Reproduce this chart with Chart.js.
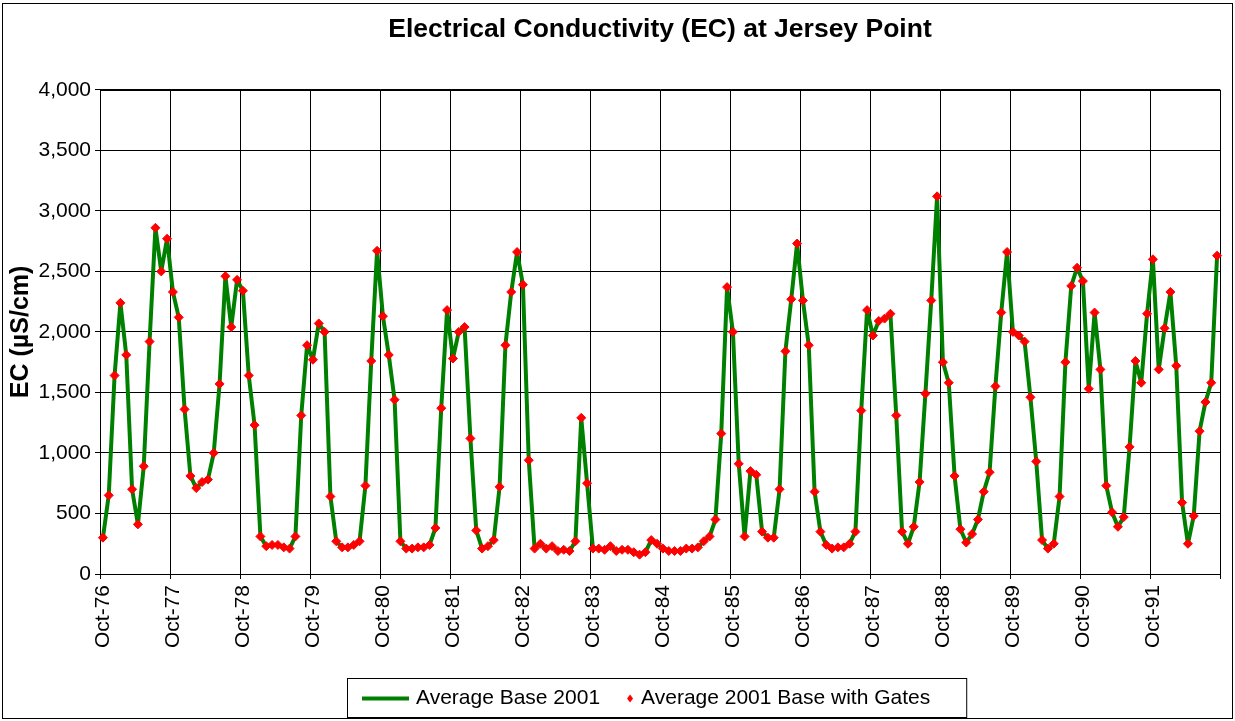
<!DOCTYPE html>
<html>
<head>
<meta charset="utf-8">
<title>EC at Jersey Point</title>
<script src="https://cdn.jsdelivr.net/npm/chart.js@4.4.0/dist/chart.umd.min.js"></script>
<style>
  html, body { margin: 0; padding: 0; background: #fff; }
  #wrap { width: 1235px; height: 721px; }
</style>
</head>
<body>
<div id="wrap"><canvas id="ecChart" width="1235" height="721"></canvas></div>
<script>
'use strict'

const chartTitle = 'Electrical Conductivity (EC) at Jersey Point';
const yTitle = 'EC (µS/cm)';
const seriesNames = ['Average Base 2001', 'Average 2001 Base with Gates'];

// water years, one label per October
const yearTicks = ['Oct-76', 'Oct-77', 'Oct-78', 'Oct-79', 'Oct-80', 'Oct-81', 'Oct-82', 'Oct-83',
  'Oct-84', 'Oct-85', 'Oct-86', 'Oct-87', 'Oct-88', 'Oct-89', 'Oct-90', 'Oct-91'];
const monthNames = ['Oct', 'Nov', 'Dec', 'Jan', 'Feb', 'Mar', 'Apr', 'May', 'Jun', 'Jul', 'Aug', 'Sep'];

// monthly EC, Oct-76 .. Sep-92
const baseEC = [
  300, 650, 1640, 2240, 1810, 700, 410, 890, 1920, 2860, 2500, 2770,
  2330, 2120, 1360, 810, 710, 760, 780, 1000, 1570, 2460, 2040, 2430,
  2340, 1640, 1230, 310, 230, 240, 240, 220, 210, 310, 1310, 1890,
  1770, 2070, 2000, 640, 270, 220, 220, 240, 270, 730, 1760, 2670,
  2130, 1810, 1440, 270, 210, 210, 220, 220, 240, 380, 1370, 2180,
  1780, 2000, 2040, 1120, 360, 210, 230, 280, 720, 1890, 2330, 2660,
  2390, 940, 210, 250, 210, 230, 190, 200, 190, 270, 1290, 750,
  210, 210, 200, 230, 190, 200, 200, 180, 160, 180, 280, 250,
  210, 190, 190, 190, 210, 210, 220, 270, 310, 450, 1160, 2370,
  2000, 910, 310, 850, 820, 350, 300, 300, 700, 1840, 2270, 2730,
  2260, 1890, 680, 350, 240, 210, 220, 220, 250, 350, 1350, 2180,
  1970, 2090, 2110, 2150, 1310, 350, 250, 390, 760, 1490, 2260, 3120,
  1750, 1580, 810, 370, 260, 330, 450, 680, 840, 1550, 2160, 2660,
  2000, 1970, 1920, 1460, 930, 280, 210, 250, 640, 1750, 2380, 2530,
  2420, 1530, 2160, 1690, 730, 510, 390, 470, 1050, 1760, 1580, 2150,
  2600, 1690, 2030, 2330, 1720, 590, 250, 480, 1180, 1420, 1580, 2630
];
const gatesEC = [
  300, 650, 1640, 2240, 1810, 700, 410, 890, 1920, 2860, 2500, 2770,
  2330, 2120, 1360, 810, 710, 760, 780, 1000, 1570, 2460, 2040, 2430,
  2340, 1640, 1230, 310, 230, 240, 240, 220, 210, 310, 1310, 1890,
  1770, 2070, 2000, 640, 270, 220, 220, 240, 270, 730, 1760, 2670,
  2130, 1810, 1440, 270, 210, 210, 220, 220, 240, 380, 1370, 2180,
  1780, 2000, 2040, 1120, 360, 210, 230, 280, 720, 1890, 2330, 2660,
  2390, 940, 210, 250, 210, 230, 190, 200, 190, 270, 1290, 750,
  210, 210, 200, 230, 190, 200, 200, 180, 160, 180, 280, 250,
  210, 190, 190, 190, 210, 210, 220, 270, 310, 450, 1160, 2370,
  2000, 910, 310, 850, 820, 350, 300, 300, 700, 1840, 2270, 2730,
  2260, 1890, 680, 350, 240, 210, 220, 220, 250, 350, 1350, 2180,
  1970, 2090, 2110, 2150, 1310, 350, 250, 390, 760, 1490, 2260, 3120,
  1750, 1580, 810, 370, 260, 330, 450, 680, 840, 1550, 2160, 2660,
  2000, 1970, 1920, 1460, 930, 280, 210, 250, 640, 1750, 2380, 2530,
  2420, 1530, 2160, 1690, 730, 510, 390, 470, 1050, 1760, 1580, 2150,
  2600, 1690, 2030, 2330, 1720, 590, 250, 480, 1180, 1420, 1580, 2630
];

const yMin = 0, yMax = 4000, yStep = 500;

const FONT = 'Arial, "Liberation Sans", sans-serif';
const GREEN = '#008000';
const RED = '#ff0000';

// one category per month
const months = [];
for (let y = 0; y < yearTicks.length; y++) {
  const startYY = parseInt(yearTicks[y].slice(4), 10);
  for (let m = 0; m < 12; m++) {
    const yy = m < 3 ? startYY : (startYY + 1) % 100;
    months.push(monthNames[m] + '-' + String(yy).padStart(2, '0'));
  }
}

function yearLine(c) {
  // extra grid line at the right edge has no tick index
  if (c.index === undefined || c.index % 12 === 0) return '#000';
  return 'rgba(0,0,0,0)';
}

const frameAndLegend = {
  id: 'frameAndLegend',
  beforeDatasetsDraw(chart) {
    const a = chart.chartArea;
    const c = chart.ctx;
    c.save();
    c.strokeStyle = '#000';
    c.lineWidth = 1;
    c.strokeRect(Math.round(a.left) + 0.5, Math.round(a.top) + 0.5,
      Math.round(a.right - a.left), Math.round(a.bottom - a.top));
    c.restore();
  },
  afterDraw(chart) {
    const a = chart.chartArea;
    const c = chart.ctx;
    c.save();
    // outer chart border
    c.strokeStyle = '#000';
    c.lineWidth = 1;
    c.strokeRect(2.5, 3.5, chart.width - 5, chart.height - 6);

    // legend box under the axis
    c.font = '21px ' + FONT;
    c.textBaseline = 'middle';
    c.fillStyle = '#000';
    const w1 = c.measureText(seriesNames[0]).width;
    const w2 = c.measureText(seriesNames[1]).width;
    const padL = 15, lineLen = 47, gap1 = 7, gap2 = 30, gap3 = 11, padR = 36;
    const boxW = padL + lineLen + gap1 + w1 + gap2 + gap3 + w2 + padR;
    const left = Math.round((a.left + a.right) / 2 - boxW / 2) - 3;
    const top = 678, boxH = 39;
    const midY = top + boxH / 2 + 1;
    c.strokeRect(left + 0.5, top + 0.5, boxW, boxH);

    let x = left + padL;
    c.strokeStyle = GREEN;
    c.lineWidth = 4;
    c.beginPath();
    c.moveTo(x, midY);
    c.lineTo(x + lineLen, midY);
    c.stroke();
    x += lineLen + gap1;
    c.fillText(seriesNames[0], x, midY);
    x += w1 + gap2;
    c.fillStyle = RED;
    c.beginPath();
    c.moveTo(x, midY - 4);
    c.lineTo(x + 3, midY);
    c.lineTo(x, midY + 4);
    c.lineTo(x - 3, midY);
    c.closePath();
    c.fill();
    x += gap3;
    c.fillStyle = '#000';
    c.fillText(seriesNames[1], x, midY);
    c.restore();
  }
};

const ctx = document.getElementById('ecChart').getContext('2d');
new Chart(ctx, {
  type: 'line',
  data: {
    labels: months,
    datasets: [
      {
        label: seriesNames[0],
        data: baseEC,
        borderColor: GREEN,
        borderWidth: 4,
        borderJoinStyle: 'round',
        borderCapStyle: 'round',
        pointRadius: 0,
        tension: 0,
        order: 2
      },
      {
        label: seriesNames[1],
        data: gatesEC,
        showLine: false,
        pointStyle: 'rectRot',
        pointRadius: 4.5,
        pointBackgroundColor: RED,
        pointBorderColor: RED,
        pointBorderWidth: 1,
        order: 1
      }
    ]
  },
  options: {
    responsive: false,
    animation: false,
    devicePixelRatio: 1,
    layout: { padding: { left: 0, right: 15, top: 0, bottom: 60 } },
    plugins: {
      legend: { display: false },
      tooltip: { enabled: false },
      title: {
        display: true,
        text: chartTitle,
        fullSize: false,
        color: '#000',
        font: { family: FONT, size: 26.5, weight: 'bold' },
        padding: { top: 14, bottom: 44 }
      }
    },
    scales: {
      x: {
        type: 'category',
        offset: true,
        afterFit(scale) {
          scale.height = 721 - 60 - 574;
          scale.paddingLeft = 0;
          scale.paddingRight = 0;
        },
        grid: { offset: true, color: yearLine, lineWidth: 1, tickLength: 5, drawTicks: true },
        border: { display: true, color: '#000' },
        ticks: {
          autoSkip: false,
          minRotation: 90,
          maxRotation: 90,
          padding: 6,
          color: '#000',
          font: { family: FONT, size: 21 },
          callback(v, i) { return i % 12 === 0 ? yearTicks[i / 12] : ''; }
        }
      },
      y: {
        min: yMin,
        max: yMax,
        afterFit(scale) { scale.width = 100; },
        grid: { color: '#000', lineWidth: 1, tickLength: 5 },
        border: { display: true, color: '#000' },
        ticks: {
          stepSize: yStep,
          padding: 4,
          color: '#000',
          font: { family: FONT, size: 21 },
          callback(v) { return v.toLocaleString('en-US'); }
        },
        title: {
          display: true,
          text: yTitle,
          color: '#000',
          font: { family: FONT, size: 25, weight: 'bold' },
          padding: { top: 6, bottom: 0 }
        }
      }
    }
  },
  plugins: [frameAndLegend]
});
</script>
</body>
</html>
